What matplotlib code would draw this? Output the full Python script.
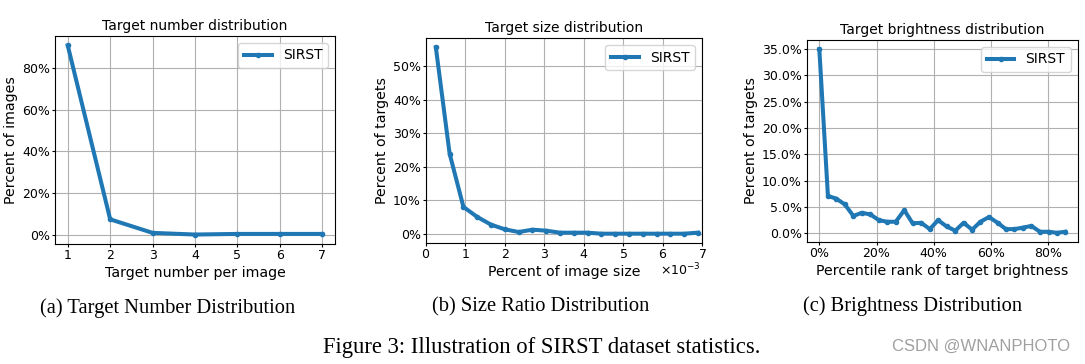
import matplotlib
matplotlib.use('Agg')
import matplotlib.pyplot as plt
from matplotlib.ticker import PercentFormatter, ScalarFormatter

# Target number distribution
num_x = [1, 2, 3, 4, 5, 6, 7]
num_pct = [90.8, 7.3, 0.8, 0.0, 0.3, 0.3, 0.3]

# Target size distribution (fraction of image size)
size_x = [0.00025, 0.00060, 0.00095, 0.00130, 0.00165, 0.00200, 0.00235,
          0.00270, 0.00305, 0.00340, 0.00375, 0.00410, 0.00445, 0.00480,
          0.00515, 0.00550, 0.00585, 0.00620, 0.00655, 0.00690]
size_pct = [55.7, 23.9, 8.0, 5.0, 2.7, 1.3, 0.5, 1.2, 0.9, 0.3,
            0.3, 0.3, 0.0, 0.0, 0.0, 0.0, 0.0, 0.0, 0.0, 0.3]

# Target brightness distribution
bright_x = [0.0, 3.0, 5.9, 8.9, 11.9, 14.8, 17.8, 20.8, 23.7, 26.7,
            29.7, 32.6, 35.6, 38.6, 41.5, 44.5, 47.5, 50.4, 53.4, 56.3,
            59.3, 62.3, 65.2, 68.2, 71.2, 74.1, 77.1, 80.1, 83.0, 86.0]
bright_pct = [35.0, 7.1, 6.6, 5.5, 3.3, 3.9, 3.6, 2.5, 2.2, 2.2,
              4.4, 1.9, 2.0, 0.8, 2.5, 1.3, 0.5, 2.0, 0.7, 2.2,
              3.1, 2.0, 0.8, 0.8, 1.1, 1.4, 0.3, 0.3, 0.1, 0.3]

plt.rcParams['font.family'] = 'DejaVu Sans'
fig = plt.figure(figsize=(10.85, 3.64), dpi=100)

ax1 = fig.add_axes([0.0507, 0.3297, 0.2581, 0.5714])
ax2 = fig.add_axes([0.3926, 0.3324, 0.2544, 0.5632])
ax3 = fig.add_axes([0.7438, 0.3352, 0.2495, 0.5550])

line_kw = dict(color='#1f77b4', linewidth=2.9, marker='.', markersize=6, label='SIRST')

ax1.plot(num_x, num_pct, **line_kw)
ax1.set_title('Target number distribution', fontsize=10, pad=4)
ax1.set_xlabel('Target number per image', fontsize=10.2, labelpad=2.5)
ax1.set_ylabel('Percent of images', fontsize=10.2, labelpad=3)
ax1.yaxis.set_major_formatter(PercentFormatter(decimals=0))
ax1.set_yticks([0, 20, 40, 60, 80])

ax2.plot(size_x, size_pct, **line_kw)
ax2.set_xlim(0, 0.007)
ax2.set_title('Target size distribution', fontsize=10, pad=4)
ax2.set_xlabel('Percent of image size', fontsize=10.2, labelpad=2.5)
ax2.set_ylabel('Percent of targets', fontsize=10.2, labelpad=3)
ax2.yaxis.set_major_formatter(PercentFormatter(decimals=0))
fmt = ScalarFormatter(useMathText=True)
fmt.set_powerlimits((-2, 2))
ax2.xaxis.set_major_formatter(fmt)
ax2.xaxis.get_offset_text().set_visible(False)
ax2.text(0.995, -0.09, r'$\times10^{-3}$', transform=ax2.transAxes,
         ha='right', va='top', fontsize=9)

ax3.plot(bright_x, bright_pct, **line_kw)
ax3.set_title('Target brightness distribution', fontsize=10, pad=4)
ax3.set_xlabel('Percentile rank of target brightness', fontsize=10.2, labelpad=2.5)
ax3.set_ylabel('Percent of targets', fontsize=10.2, labelpad=3)
ax3.yaxis.set_major_formatter(PercentFormatter(decimals=1))
ax3.xaxis.set_major_formatter(PercentFormatter(decimals=0))
ax3.set_xticks([0, 20, 40, 60, 80])

for ax in (ax1, ax2, ax3):
    ax.grid(True, color='#b0b0b0', linewidth=0.8)
    ax.tick_params(labelsize=9, length=2.5, pad=1.2)
    ax.legend(loc='upper right', fontsize=10)

sub_font = dict(family='Liberation Serif', fontsize=14.8, ha='center', va='center')
fig.text(168 / 1085, 1 - 308 / 364, '(a) Target Number Distribution', **sub_font)
fig.text(541 / 1085, 1 - 307 / 364, '(b) Size Ratio Distribution', **sub_font)
fig.text(913 / 1085, 1 - 306 / 364, '(c) Brightness Distribution', **sub_font)
fig.text(542 / 1085, 1 - 347 / 364, 'Figure 3: Illustration of SIRST dataset statistics.',
         family='Liberation Serif', fontsize=16.3, ha='center', va='center')
fig.text(981 / 1085, 1 - 346 / 364, 'CSDN @WNANPHOTO', family='Liberation Sans',
         fontsize=12, color='#a0a0a0', ha='center', va='center')

plt.savefig('out.png', dpi=100)
